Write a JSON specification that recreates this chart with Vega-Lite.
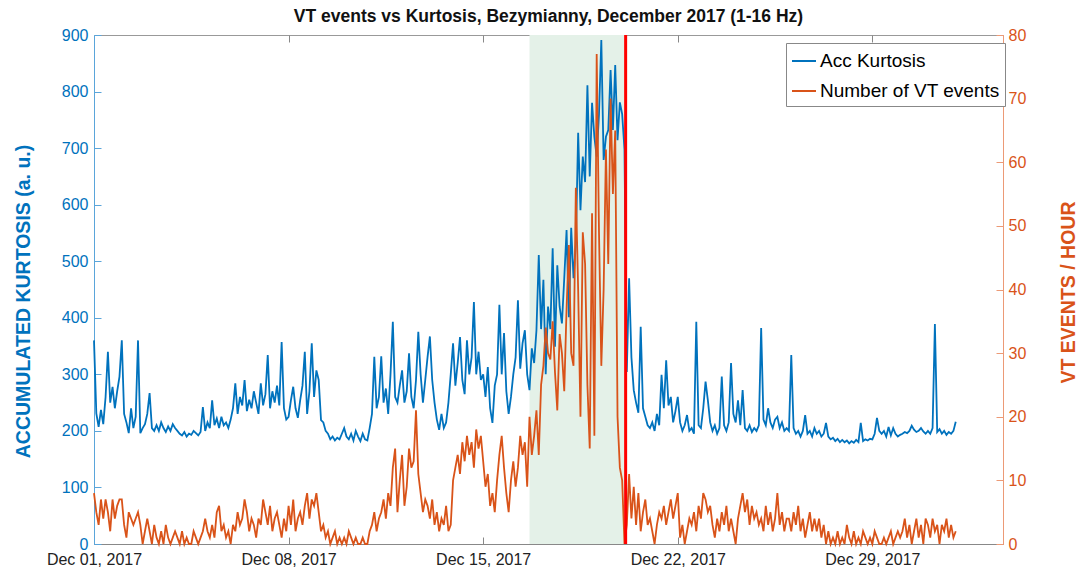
{
"$schema": "https://vega.github.io/schema/vega-lite/v6.json",
"width": 909, "height": 509,
"autosize": {"type": "none"},
"padding": {"left": 94, "top": 35, "right": 84, "bottom": 27},
"background": "white",
"title": {"text": "VT events vs Kurtosis, Bezymianny, December 2017 (1-16 Hz)", "fontSize": 17.5, "font": "Liberation Sans", "fontWeight": "bold", "color": "#111111", "offset": 2, "anchor": "middle"},
"config": {"view": {"stroke": "#999999", "strokeWidth": 1}, "font": "Liberation Sans"},
"datasets": {"main": [
{"t":"2017-12-01T00:00","k":360,"v":8},{"t":"2017-12-01T02:00","k":231,"v":5},{"t":"2017-12-01T04:00","k":207,"v":3},{"t":"2017-12-01T06:00","k":237,"v":7},{"t":"2017-12-01T08:00","k":212,"v":4},{"t":"2017-12-01T10:00","k":260,"v":7},{"t":"2017-12-01T12:00","k":340,"v":5},{"t":"2017-12-01T14:00","k":250,"v":2},{"t":"2017-12-01T16:00","k":278,"v":7},{"t":"2017-12-01T18:00","k":240,"v":4},{"t":"2017-12-01T20:00","k":270,"v":6},{"t":"2017-12-01T22:00","k":296,"v":7},
{"t":"2017-12-02T00:00","k":360,"v":7},{"t":"2017-12-02T02:00","k":230,"v":3},{"t":"2017-12-02T04:00","k":215,"v":1},{"t":"2017-12-02T06:00","k":196,"v":5},{"t":"2017-12-02T08:00","k":240,"v":4},{"t":"2017-12-02T10:00","k":205,"v":3},{"t":"2017-12-02T12:00","k":225,"v":4},{"t":"2017-12-02T14:00","k":360,"v":5},{"t":"2017-12-02T16:00","k":196,"v":3},{"t":"2017-12-02T18:00","k":205,"v":0},{"t":"2017-12-02T20:00","k":212,"v":2},{"t":"2017-12-02T22:00","k":230,"v":4},
{"t":"2017-12-03T00:00","k":267,"v":2},{"t":"2017-12-03T02:00","k":205,"v":0},{"t":"2017-12-03T04:00","k":200,"v":3},{"t":"2017-12-03T06:00","k":210,"v":1},{"t":"2017-12-03T08:00","k":200,"v":0},{"t":"2017-12-03T10:00","k":215,"v":2},{"t":"2017-12-03T12:00","k":205,"v":0},{"t":"2017-12-03T14:00","k":198,"v":3},{"t":"2017-12-03T16:00","k":208,"v":1},{"t":"2017-12-03T18:00","k":200,"v":0},{"t":"2017-12-03T20:00","k":212,"v":1},{"t":"2017-12-03T22:00","k":205,"v":2},
{"t":"2017-12-04T00:00","k":200,"v":1},{"t":"2017-12-04T02:00","k":195,"v":0},{"t":"2017-12-04T04:00","k":192,"v":2},{"t":"2017-12-04T06:00","k":198,"v":0},{"t":"2017-12-04T08:00","k":190,"v":1},{"t":"2017-12-04T10:00","k":195,"v":0},{"t":"2017-12-04T12:00","k":193,"v":0},{"t":"2017-12-04T14:00","k":200,"v":2},{"t":"2017-12-04T16:00","k":196,"v":1},{"t":"2017-12-04T18:00","k":192,"v":0},{"t":"2017-12-04T20:00","k":198,"v":1},{"t":"2017-12-04T22:00","k":242,"v":2},
{"t":"2017-12-05T00:00","k":200,"v":4},{"t":"2017-12-05T02:00","k":215,"v":2},{"t":"2017-12-05T04:00","k":205,"v":1},{"t":"2017-12-05T06:00","k":254,"v":3},{"t":"2017-12-05T08:00","k":210,"v":1},{"t":"2017-12-05T10:00","k":222,"v":5},{"t":"2017-12-05T12:00","k":205,"v":6},{"t":"2017-12-05T14:00","k":225,"v":2},{"t":"2017-12-05T16:00","k":210,"v":3},{"t":"2017-12-05T18:00","k":215,"v":1},{"t":"2017-12-05T20:00","k":205,"v":2},{"t":"2017-12-05T22:00","k":220,"v":0},
{"t":"2017-12-06T00:00","k":240,"v":3},{"t":"2017-12-06T02:00","k":284,"v":2},{"t":"2017-12-06T04:00","k":230,"v":5},{"t":"2017-12-06T06:00","k":260,"v":3},{"t":"2017-12-06T08:00","k":245,"v":4},{"t":"2017-12-06T10:00","k":290,"v":7},{"t":"2017-12-06T12:00","k":235,"v":5},{"t":"2017-12-06T14:00","k":255,"v":2},{"t":"2017-12-06T16:00","k":240,"v":4},{"t":"2017-12-06T18:00","k":270,"v":3},{"t":"2017-12-06T20:00","k":250,"v":1},{"t":"2017-12-06T22:00","k":230,"v":4},
{"t":"2017-12-07T00:00","k":284,"v":3},{"t":"2017-12-07T02:00","k":245,"v":7},{"t":"2017-12-07T04:00","k":265,"v":5},{"t":"2017-12-07T06:00","k":334,"v":3},{"t":"2017-12-07T08:00","k":240,"v":6},{"t":"2017-12-07T10:00","k":270,"v":2},{"t":"2017-12-07T12:00","k":250,"v":4},{"t":"2017-12-07T14:00","k":280,"v":5},{"t":"2017-12-07T16:00","k":245,"v":3},{"t":"2017-12-07T18:00","k":357,"v":1},{"t":"2017-12-07T20:00","k":240,"v":4},{"t":"2017-12-07T22:00","k":220,"v":2},
{"t":"2017-12-08T00:00","k":225,"v":6},{"t":"2017-12-08T02:00","k":254,"v":3},{"t":"2017-12-08T04:00","k":278,"v":7},{"t":"2017-12-08T06:00","k":240,"v":2},{"t":"2017-12-08T08:00","k":223,"v":4},{"t":"2017-12-08T10:00","k":254,"v":5},{"t":"2017-12-08T12:00","k":280,"v":3},{"t":"2017-12-08T14:00","k":340,"v":6},{"t":"2017-12-08T16:00","k":230,"v":8},{"t":"2017-12-08T18:00","k":270,"v":4},{"t":"2017-12-08T20:00","k":355,"v":7},{"t":"2017-12-08T22:00","k":260,"v":6},
{"t":"2017-12-09T00:00","k":307,"v":8},{"t":"2017-12-09T02:00","k":290,"v":5},{"t":"2017-12-09T04:00","k":219,"v":2},{"t":"2017-12-09T06:00","k":215,"v":3},{"t":"2017-12-09T08:00","k":200,"v":1},{"t":"2017-12-09T10:00","k":195,"v":2},{"t":"2017-12-09T12:00","k":185,"v":0},{"t":"2017-12-09T14:00","k":190,"v":1},{"t":"2017-12-09T16:00","k":183,"v":2},{"t":"2017-12-09T18:00","k":188,"v":0},{"t":"2017-12-09T20:00","k":185,"v":1},{"t":"2017-12-09T22:00","k":195,"v":0},
{"t":"2017-12-10T00:00","k":205,"v":1},{"t":"2017-12-10T02:00","k":190,"v":0},{"t":"2017-12-10T04:00","k":185,"v":2},{"t":"2017-12-10T06:00","k":195,"v":1},{"t":"2017-12-10T08:00","k":183,"v":0},{"t":"2017-12-10T10:00","k":200,"v":1},{"t":"2017-12-10T12:00","k":190,"v":0},{"t":"2017-12-10T14:00","k":182,"v":0},{"t":"2017-12-10T16:00","k":195,"v":1},{"t":"2017-12-10T18:00","k":185,"v":0},{"t":"2017-12-10T20:00","k":183,"v":0},{"t":"2017-12-10T22:00","k":205,"v":2},
{"t":"2017-12-11T00:00","k":230,"v":3},{"t":"2017-12-11T02:00","k":331,"v":5},{"t":"2017-12-11T04:00","k":240,"v":2},{"t":"2017-12-11T06:00","k":260,"v":4},{"t":"2017-12-11T08:00","k":332,"v":5},{"t":"2017-12-11T10:00","k":250,"v":7},{"t":"2017-12-11T12:00","k":275,"v":4},{"t":"2017-12-11T14:00","k":230,"v":8},{"t":"2017-12-11T16:00","k":300,"v":6},{"t":"2017-12-11T18:00","k":393,"v":12},{"t":"2017-12-11T20:00","k":260,"v":15},{"t":"2017-12-11T22:00","k":250,"v":5},
{"t":"2017-12-12T00:00","k":280,"v":10},{"t":"2017-12-12T02:00","k":307,"v":14},{"t":"2017-12-12T04:00","k":250,"v":6},{"t":"2017-12-12T06:00","k":270,"v":9},{"t":"2017-12-12T08:00","k":337,"v":15},{"t":"2017-12-12T10:00","k":260,"v":12},{"t":"2017-12-12T12:00","k":240,"v":13},{"t":"2017-12-12T14:00","k":290,"v":21},{"t":"2017-12-12T16:00","k":375,"v":11},{"t":"2017-12-12T18:00","k":300,"v":8},{"t":"2017-12-12T20:00","k":250,"v":5},{"t":"2017-12-12T22:00","k":290,"v":7},
{"t":"2017-12-13T00:00","k":331,"v":6},{"t":"2017-12-13T02:00","k":367,"v":4},{"t":"2017-12-13T04:00","k":290,"v":7},{"t":"2017-12-13T06:00","k":250,"v":3},{"t":"2017-12-13T08:00","k":220,"v":5},{"t":"2017-12-13T10:00","k":202,"v":2},{"t":"2017-12-13T12:00","k":230,"v":4},{"t":"2017-12-13T14:00","k":205,"v":3},{"t":"2017-12-13T16:00","k":215,"v":6},{"t":"2017-12-13T18:00","k":250,"v":2},{"t":"2017-12-13T20:00","k":300,"v":3},{"t":"2017-12-13T22:00","k":355,"v":10},
{"t":"2017-12-14T00:00","k":280,"v":12},{"t":"2017-12-14T02:00","k":320,"v":14},{"t":"2017-12-14T04:00","k":366,"v":11},{"t":"2017-12-14T06:00","k":290,"v":16},{"t":"2017-12-14T08:00","k":265,"v":13},{"t":"2017-12-14T10:00","k":360,"v":17},{"t":"2017-12-14T12:00","k":300,"v":14},{"t":"2017-12-14T14:00","k":330,"v":16},{"t":"2017-12-14T16:00","k":428,"v":12},{"t":"2017-12-14T18:00","k":300,"v":18},{"t":"2017-12-14T20:00","k":340,"v":15},{"t":"2017-12-14T22:00","k":290,"v":17},
{"t":"2017-12-15T00:00","k":300,"v":13},{"t":"2017-12-15T02:00","k":260,"v":9},{"t":"2017-12-15T04:00","k":313,"v":11},{"t":"2017-12-15T06:00","k":240,"v":6},{"t":"2017-12-15T08:00","k":214,"v":8},{"t":"2017-12-15T10:00","k":280,"v":5},{"t":"2017-12-15T12:00","k":300,"v":10},{"t":"2017-12-15T14:00","k":423,"v":14},{"t":"2017-12-15T16:00","k":300,"v":17},{"t":"2017-12-15T18:00","k":373,"v":12},{"t":"2017-12-15T20:00","k":270,"v":8},{"t":"2017-12-15T22:00","k":230,"v":5},
{"t":"2017-12-16T00:00","k":260,"v":10},{"t":"2017-12-16T02:00","k":300,"v":13},{"t":"2017-12-16T04:00","k":330,"v":9},{"t":"2017-12-16T06:00","k":431,"v":12},{"t":"2017-12-16T08:00","k":310,"v":17},{"t":"2017-12-16T10:00","k":355,"v":14},{"t":"2017-12-16T12:00","k":378,"v":16},{"t":"2017-12-16T14:00","k":300,"v":9},{"t":"2017-12-16T16:00","k":272,"v":20},{"t":"2017-12-16T18:00","k":346,"v":14},{"t":"2017-12-16T20:00","k":320,"v":17},{"t":"2017-12-16T22:00","k":378,"v":21},
{"t":"2017-12-17T00:00","k":511,"v":14},{"t":"2017-12-17T02:00","k":380,"v":25},{"t":"2017-12-17T04:00","k":467,"v":28},{"t":"2017-12-17T06:00","k":300,"v":34},{"t":"2017-12-17T08:00","k":420,"v":30},{"t":"2017-12-17T10:00","k":380,"v":29},{"t":"2017-12-17T12:00","k":523,"v":35},{"t":"2017-12-17T14:00","k":349,"v":27},{"t":"2017-12-17T16:00","k":493,"v":21},{"t":"2017-12-17T18:00","k":420,"v":33},{"t":"2017-12-17T20:00","k":390,"v":30},{"t":"2017-12-17T22:00","k":470,"v":24},
{"t":"2017-12-18T00:00","k":555,"v":37},{"t":"2017-12-18T02:00","k":401,"v":47},{"t":"2017-12-18T04:00","k":559,"v":30},{"t":"2017-12-18T06:00","k":470,"v":28},{"t":"2017-12-18T08:00","k":530,"v":56},{"t":"2017-12-18T10:00","k":727,"v":40},{"t":"2017-12-18T12:00","k":590,"v":20},{"t":"2017-12-18T14:00","k":685,"v":49},{"t":"2017-12-18T16:00","k":640,"v":44},{"t":"2017-12-18T18:00","k":811,"v":25},{"t":"2017-12-18T20:00","k":650,"v":15},{"t":"2017-12-18T22:00","k":780,"v":52},
{"t":"2017-12-19T00:00","k":720,"v":17},{"t":"2017-12-19T02:00","k":685,"v":77},{"t":"2017-12-19T04:00","k":760,"v":49},{"t":"2017-12-19T06:00","k":891,"v":28},{"t":"2017-12-19T08:00","k":679,"v":40},{"t":"2017-12-19T10:00","k":720,"v":62},{"t":"2017-12-19T12:00","k":732,"v":44},{"t":"2017-12-19T14:00","k":838,"v":70},{"t":"2017-12-19T16:00","k":732,"v":55},{"t":"2017-12-19T18:00","k":847,"v":65},{"t":"2017-12-19T20:00","k":714,"v":20},{"t":"2017-12-19T22:00","k":781,"v":12},
{"t":"2017-12-20T00:00","k":760,"v":10},{"t":"2017-12-20T02:00","k":697,"v":0},{"t":"2017-12-20T04:00","k":304,"v":3},{"t":"2017-12-20T06:00","k":470,"v":11},{"t":"2017-12-20T08:00","k":330,"v":4},{"t":"2017-12-20T10:00","k":272,"v":9},{"t":"2017-12-20T12:00","k":250,"v":3},{"t":"2017-12-20T14:00","k":232,"v":8},{"t":"2017-12-20T16:00","k":384,"v":2},{"t":"2017-12-20T18:00","k":240,"v":5},{"t":"2017-12-20T20:00","k":225,"v":7},{"t":"2017-12-20T22:00","k":210,"v":3},
{"t":"2017-12-21T00:00","k":205,"v":4},{"t":"2017-12-21T02:00","k":215,"v":2},{"t":"2017-12-21T04:00","k":200,"v":0},{"t":"2017-12-21T06:00","k":230,"v":3},{"t":"2017-12-21T08:00","k":210,"v":5},{"t":"2017-12-21T10:00","k":299,"v":4},{"t":"2017-12-21T12:00","k":240,"v":6},{"t":"2017-12-21T14:00","k":325,"v":3},{"t":"2017-12-21T16:00","k":245,"v":5},{"t":"2017-12-21T18:00","k":260,"v":7},{"t":"2017-12-21T20:00","k":215,"v":4},{"t":"2017-12-21T22:00","k":235,"v":6},
{"t":"2017-12-22T00:00","k":260,"v":8},{"t":"2017-12-22T02:00","k":215,"v":1},{"t":"2017-12-22T04:00","k":200,"v":3},{"t":"2017-12-22T06:00","k":210,"v":0},{"t":"2017-12-22T08:00","k":228,"v":2},{"t":"2017-12-22T10:00","k":200,"v":4},{"t":"2017-12-22T12:00","k":205,"v":3},{"t":"2017-12-22T14:00","k":195,"v":5},{"t":"2017-12-22T16:00","k":393,"v":2},{"t":"2017-12-22T18:00","k":210,"v":6},{"t":"2017-12-22T20:00","k":205,"v":4},{"t":"2017-12-22T22:00","k":240,"v":8},
{"t":"2017-12-23T00:00","k":287,"v":7},{"t":"2017-12-23T02:00","k":254,"v":5},{"t":"2017-12-23T04:00","k":215,"v":6},{"t":"2017-12-23T06:00","k":200,"v":3},{"t":"2017-12-23T08:00","k":210,"v":1},{"t":"2017-12-23T10:00","k":195,"v":4},{"t":"2017-12-23T12:00","k":205,"v":2},{"t":"2017-12-23T14:00","k":296,"v":5},{"t":"2017-12-23T16:00","k":210,"v":3},{"t":"2017-12-23T18:00","k":200,"v":6},{"t":"2017-12-23T20:00","k":215,"v":2},{"t":"2017-12-23T22:00","k":320,"v":4},
{"t":"2017-12-24T00:00","k":230,"v":2},{"t":"2017-12-24T02:00","k":215,"v":0},{"t":"2017-12-24T04:00","k":254,"v":4},{"t":"2017-12-24T06:00","k":210,"v":6},{"t":"2017-12-24T08:00","k":272,"v":8},{"t":"2017-12-24T10:00","k":205,"v":5},{"t":"2017-12-24T12:00","k":200,"v":7},{"t":"2017-12-24T14:00","k":210,"v":3},{"t":"2017-12-24T16:00","k":198,"v":6},{"t":"2017-12-24T18:00","k":205,"v":4},{"t":"2017-12-24T20:00","k":200,"v":5},{"t":"2017-12-24T22:00","k":210,"v":3},
{"t":"2017-12-25T00:00","k":382,"v":4},{"t":"2017-12-25T02:00","k":220,"v":2},{"t":"2017-12-25T04:00","k":210,"v":6},{"t":"2017-12-25T06:00","k":240,"v":3},{"t":"2017-12-25T08:00","k":215,"v":5},{"t":"2017-12-25T10:00","k":205,"v":2},{"t":"2017-12-25T12:00","k":220,"v":4},{"t":"2017-12-25T14:00","k":225,"v":8},{"t":"2017-12-25T16:00","k":205,"v":3},{"t":"2017-12-25T18:00","k":215,"v":5},{"t":"2017-12-25T20:00","k":200,"v":2},{"t":"2017-12-25T22:00","k":205,"v":4},
{"t":"2017-12-26T00:00","k":200,"v":4},{"t":"2017-12-26T02:00","k":334,"v":2},{"t":"2017-12-26T04:00","k":205,"v":5},{"t":"2017-12-26T06:00","k":195,"v":3},{"t":"2017-12-26T08:00","k":200,"v":6},{"t":"2017-12-26T10:00","k":190,"v":2},{"t":"2017-12-26T12:00","k":200,"v":4},{"t":"2017-12-26T14:00","k":228,"v":1},{"t":"2017-12-26T16:00","k":195,"v":3},{"t":"2017-12-26T18:00","k":200,"v":5},{"t":"2017-12-26T20:00","k":190,"v":2},{"t":"2017-12-26T22:00","k":205,"v":4},
{"t":"2017-12-27T00:00","k":195,"v":2},{"t":"2017-12-27T02:00","k":200,"v":4},{"t":"2017-12-27T04:00","k":190,"v":1},{"t":"2017-12-27T06:00","k":195,"v":3},{"t":"2017-12-27T08:00","k":214,"v":0},{"t":"2017-12-27T10:00","k":190,"v":2},{"t":"2017-12-27T12:00","k":185,"v":0},{"t":"2017-12-27T14:00","k":188,"v":1},{"t":"2017-12-27T16:00","k":182,"v":0},{"t":"2017-12-27T18:00","k":186,"v":2},{"t":"2017-12-27T20:00","k":180,"v":0},{"t":"2017-12-27T22:00","k":184,"v":1},
{"t":"2017-12-28T00:00","k":180,"v":0},{"t":"2017-12-28T02:00","k":183,"v":3},{"t":"2017-12-28T04:00","k":178,"v":1},{"t":"2017-12-28T06:00","k":182,"v":0},{"t":"2017-12-28T08:00","k":179,"v":2},{"t":"2017-12-28T10:00","k":184,"v":0},{"t":"2017-12-28T12:00","k":180,"v":1},{"t":"2017-12-28T14:00","k":214,"v":0},{"t":"2017-12-28T16:00","k":182,"v":2},{"t":"2017-12-28T18:00","k":185,"v":1},{"t":"2017-12-28T20:00","k":183,"v":0},{"t":"2017-12-28T22:00","k":186,"v":1},
{"t":"2017-12-29T00:00","k":185,"v":0},{"t":"2017-12-29T02:00","k":195,"v":2},{"t":"2017-12-29T04:00","k":223,"v":1},{"t":"2017-12-29T06:00","k":200,"v":0},{"t":"2017-12-29T08:00","k":195,"v":0},{"t":"2017-12-29T10:00","k":200,"v":1},{"t":"2017-12-29T12:00","k":190,"v":0},{"t":"2017-12-29T14:00","k":207,"v":1},{"t":"2017-12-29T16:00","k":192,"v":2},{"t":"2017-12-29T18:00","k":205,"v":0},{"t":"2017-12-29T20:00","k":195,"v":1},{"t":"2017-12-29T22:00","k":190,"v":2},
{"t":"2017-12-30T00:00","k":193,"v":1},{"t":"2017-12-30T02:00","k":195,"v":2},{"t":"2017-12-30T04:00","k":198,"v":4},{"t":"2017-12-30T06:00","k":196,"v":1},{"t":"2017-12-30T08:00","k":200,"v":3},{"t":"2017-12-30T10:00","k":209,"v":0},{"t":"2017-12-30T12:00","k":202,"v":2},{"t":"2017-12-30T14:00","k":198,"v":4},{"t":"2017-12-30T16:00","k":200,"v":1},{"t":"2017-12-30T18:00","k":205,"v":3},{"t":"2017-12-30T20:00","k":199,"v":0},{"t":"2017-12-30T22:00","k":195,"v":4},
{"t":"2017-12-31T00:00","k":200,"v":3},{"t":"2017-12-31T02:00","k":195,"v":1},{"t":"2017-12-31T04:00","k":205,"v":4},{"t":"2017-12-31T06:00","k":389,"v":2},{"t":"2017-12-31T08:00","k":198,"v":3},{"t":"2017-12-31T10:00","k":203,"v":0},{"t":"2017-12-31T12:00","k":195,"v":3},{"t":"2017-12-31T14:00","k":200,"v":2},{"t":"2017-12-31T16:00","k":193,"v":4},{"t":"2017-12-31T18:00","k":198,"v":1},{"t":"2017-12-31T20:00","k":195,"v":3},{"t":"2017-12-31T22:00","k":200,"v":1},
{"t":"2018-01-01T00:00","k":216,"v":2}
]},
"layer": [
{"data": {"values": [{"s": "2017-12-16T16:00", "e": "2017-12-20T03:00"}]},
 "mark": {"type": "rect", "color": "#e4f1e8"},
 "encoding": {
  "x": {"field": "s", "type": "temporal", "scale": {"domain": ["2017-12-01T00:00", "2018-01-02T16:48"]},
   "axis": {"orient": "top", "values": [{"year": 2017, "month": 12, "date": 8}, {"year": 2017, "month": 12, "date": 15}, {"year": 2017, "month": 12, "date": 22}, {"year": 2017, "month": 12, "date": 29}], "labels": false, "domain": false, "grid": false, "tickColor": "#888888", "tickSize": -7, "title": null}},
  "x2": {"field": "e"}}},
{"data": {"name": "main"},
 "mark": {"type": "line", "strokeWidth": 1.8},
 "encoding": {
  "x": {"field": "t", "type": "temporal",
   "axis": {"orient": "bottom", "values": [{"year": 2017, "month": 12, "date": 1}, {"year": 2017, "month": 12, "date": 8}, {"year": 2017, "month": 12, "date": 15}, {"year": 2017, "month": 12, "date": 22}, {"year": 2017, "month": 12, "date": 29}], "format": "%b %d, %Y", "labelFontSize": 16, "labelColor": "#222222", "labelFlush": false, "labelOverlap": false, "domainColor": "#888888", "tickColor": "#888888", "tickSize": -7, "labelPadding": 14, "grid": false, "title": null}},
  "y": {"field": "k", "type": "quantitative", "scale": {"domain": [0, 900], "nice": false},
   "axis": {"orient": "left", "values": [0, 100, 200, 300, 400, 500, 600, 700, 800, 900], "labelColor": "#0072BD", "labelFontSize": 16, "domainColor": "#5aa5da", "tickColor": "#5aa5da", "tickSize": -7, "labelPadding": 13, "grid": false, "title": "ACCUMULATED KURTOSIS (a. u.)", "titleColor": "#0072BD", "titleFontSize": 19.5, "titleFontWeight": "bold", "titleAngle": -90, "titleX": -71, "titleY": 266, "titleBaseline": "middle", "titleAlign": "center"}},
  "color": {"datum": "Acc Kurtosis", "type": "nominal",
   "scale": {"domain": ["Acc Kurtosis", "Number of VT events"], "range": ["#0072BD", "#D95319"]},
   "legend": {"orient": "none", "legendX": 692, "legendY": 8, "title": null, "symbolType": "stroke", "symbolSize": 576, "symbolStrokeWidth": 2, "labelFontSize": 19, "labelLimit": 400, "labelColor": "#000000", "strokeColor": "#888888", "fillColor": "white", "padding": 5, "rowPadding": 7, "labelOffset": 3}}}},
{"data": {"name": "main"},
 "mark": {"type": "line", "strokeWidth": 1.8},
 "encoding": {
  "x": {"field": "t", "type": "temporal", "axis": null},
  "y": {"field": "v", "type": "quantitative", "scale": {"domain": [0, 80], "nice": false},
   "axis": {"orient": "right", "values": [0, 10, 20, 30, 40, 50, 60, 70, 80], "labelColor": "#D95319", "labelFontSize": 16, "domainColor": "#ec9a76", "tickColor": "#ec9a76", "tickSize": -7, "labelPadding": 12, "grid": false, "title": "VT EVENTS / HOUR", "titleColor": "#D95319", "titleFontSize": 19.5, "titleFontWeight": "bold", "titleAngle": -90, "titleX": 65, "titleY": 257, "titleBaseline": "middle", "titleAlign": "center"}},
  "color": {"datum": "Number of VT events", "type": "nominal"}}},
{"data": {"values": [{"t": "2017-12-20T03:00"}]},
 "mark": {"type": "rule", "color": "#ff0000", "strokeWidth": 3},
 "encoding": {"x": {"field": "t", "type": "temporal", "axis": null}}}
],
"resolve": {"scale": {"y": "independent"}, "axis": {"x": "independent"}}
}
